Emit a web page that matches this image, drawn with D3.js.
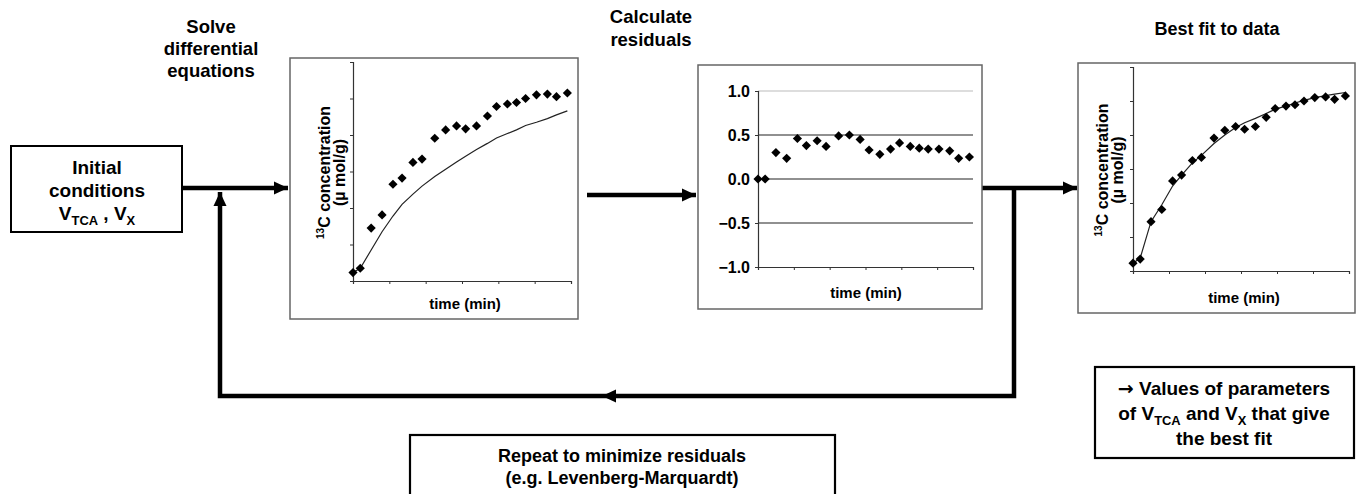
<!DOCTYPE html>
<html>
<head>
<meta charset="utf-8">
<script src="https://cdn.jsdelivr.net/npm/d3@7"></script>
<style>
  body { margin: 0; background: #fff; }
  svg { display: block; font-family: "Liberation Sans", Arial, sans-serif; font-weight: bold; }
</style>
</head>
<body>
<svg id="chart" width="1358" height="494"></svg>
<script>
// sampling times (min) shared by all three panels
const times = [0, 2, 5, 8, 11, 13.5, 16.5, 19, 22.5, 25.5, 28.5, 31, 34, 37, 39.5, 42.5, 45, 47.5, 50.5, 53.5, 56, 59]
// measured 13C concentration (arbitrary units)
const measured = [0.23, 0.35, 1.45, 1.81, 2.65, 2.82, 3.25, 3.34, 3.91, 4.14, 4.25, 4.17, 4.25, 4.52, 4.78, 4.85, 4.89, 5.0, 5.1, 5.12, 5.05, 5.15]
// model curve with the initial guess of parameters
const initialModel = [0.23, 0.35, 0.85, 1.35, 1.78, 2.1, 2.38, 2.6, 2.86, 3.06, 3.26, 3.42, 3.6, 3.77, 3.92, 4.04, 4.14, 4.26, 4.35, 4.45, 4.55, 4.66]
// model curve after fitting
const fittedModel = [0.23, 0.38, 1.45, 1.95, 2.5, 2.82, 3.18, 3.4, 3.75, 4.0, 4.22, 4.36, 4.49, 4.63, 4.76, 4.85, 4.94, 5.02, 5.1, 5.16, 5.2, 5.25]
// residuals
const residuals = [0, 0, 0.3, 0.235, 0.46, 0.38, 0.435, 0.37, 0.49, 0.5, 0.45, 0.33, 0.28, 0.34, 0.41, 0.37, 0.35, 0.34, 0.34, 0.32, 0.235, 0.25]
const residualTicks = [-1, -0.5, 0, 0.5, 1]

const svg = d3.select('#chart')
const axisColor = '#333'
const frameColor = '#666'

// Draws a thick polyline, optionally with an arrow head at the end
const arrow = (pts, head) => {
    svg.append('path')
        .attr('d', d3.line()(pts))
        .attr('fill', 'none')
        .attr('stroke', '#000')
        .attr('stroke-width', 4.5)
        .attr('stroke-linejoin', 'miter')
    if (!head) return
    const [x2, y2] = pts[pts.length - 1]
    const [x1, y1] = pts[pts.length - 2]
    const a = Math.atan2(y2 - y1, x2 - x1) * 180 / Math.PI
    svg.append('path')
        .attr('d', 'M0,0 L-14,-6.5 L-14,6.5 Z')
        .attr('fill', '#000')
        .attr('transform', `translate(${x2},${y2}) rotate(${a})`)
}

// Text block with lines; each line is a list of [text, kind] parts
const textBlock = (cx, y0, dy, size, lines) => {
    lines.forEach((parts, i) => {
        const t = svg.append('text')
            .attr('x', cx).attr('y', y0 + i * dy)
            .attr('text-anchor', 'middle')
            .attr('font-size', size)
        parts.forEach(p => {
            const [str, kind] = Array.isArray(p) ? p : [p, null]
            const ts = t.append('tspan').text(str)
            if (kind === 'sub') ts.attr('font-size', size * 0.68).attr('dy', 5)
            if (kind === 'back') ts.attr('dy', -5)
            if (kind === 'sym') ts.attr('font-family', '"DejaVu Sans", sans-serif')
        })
    })
}

const box = (x, y, w, h, sw, color) => {
    svg.append('rect').attr('x', x).attr('y', y).attr('width', w).attr('height', h)
        .attr('fill', '#fff').attr('stroke', color).attr('stroke-width', sw)
}

// ---------- flow arrows ----------
arrow([[175, 188], [288, 188]], true)
arrow([[587, 195], [696, 195]], true)
arrow([[982, 188], [1077, 188]], true)
arrow([[1014, 188], [1014, 396], [220, 396], [220, 192]], true)
// left pointing head on the return line
svg.append('path').attr('d', 'M0,0 L14,-6.5 L14,6.5 Z').attr('fill', '#000')
    .attr('transform', 'translate(602,396)')

// ---------- boxes with text ----------
box(11, 146, 171, 86, 2, '#000')
textBlock(97, 174, 23, 19, [
    ['Initial'],
    ['conditions'],
    ['V', ['TCA', 'sub'], [' , V', 'back'], ['X', 'sub']]
])

box(1095, 367, 259, 91, 2.2, '#000')
textBlock(1224, 395, 25, 19, [
    [['\u2192', 'sym'], ' Values of parameters'],
    ['of V', ['TCA', 'sub'], [' and V', 'back'], ['X', 'sub'], [' that give', 'back']],
    ['the best fit']
])

box(410, 435, 425, 70, 2.2, '#000')
textBlock(622, 462, 22, 18, [
    ['Repeat to minimize residuals'],
    ['(e.g. Levenberg-Marquardt)']
])

// ---------- titles ----------
textBlock(211, 33, 22, 18.5, [['Solve'], ['differential'], ['equations']])
textBlock(651, 23, 23, 18.5, [['Calculate'], ['residuals']])
textBlock(1217, 35, 22, 18, [['Best fit to data']])

// ---------- concentration panels ----------
const diamond = d3.symbol().type(d3.symbolSquare).size(42)

const concPanel = (frame, plot, model, labelX) => {
    box(frame.x, frame.y, frame.w, frame.h, 1.5, frameColor)
    const x = d3.scaleLinear().domain([0, 60]).range([plot.x0, plot.x1])
    const y = d3.scaleLinear().domain([0, 6]).range([plot.y0, plot.y1])
    const g = svg.append('g')

    g.append('g').attr('transform', `translate(0,${plot.y0})`)
        .call(d3.axisBottom(x).ticks(6).tickSize(3).tickFormat(''))
    g.append('g').attr('transform', `translate(${plot.x0},0)`)
        .call(d3.axisLeft(y).ticks(6).tickSize(3).tickFormat(''))
    g.selectAll('.domain').attr('stroke', axisColor).attr('stroke-width', 1.2)
    g.selectAll('.tick line').attr('stroke', axisColor)

    g.append('path')
        .datum(times.map((t, i) => [t, model[i]]))
        .attr('d', d3.line().x(d => x(d[0])).y(d => y(d[1])))
        .attr('fill', 'none').attr('stroke', '#222').attr('stroke-width', 1.2)

    g.selectAll('.pt').data(times.map((t, i) => [t, measured[i]])).join('path')
        .attr('d', diamond)
        .attr('transform', d => `translate(${x(d[0])},${y(d[1])}) rotate(45)`)
        .attr('fill', '#000')

    g.append('text').attr('x', (plot.x0 + plot.x1) / 2 + 3).attr('y', frame.y + frame.h - 10)
        .attr('text-anchor', 'middle').attr('font-size', 15).text('time (min)')

    const cy = (plot.y0 + plot.y1) / 2 + 1
    const l1 = g.append('text').attr('text-anchor', 'middle').attr('font-size', 16)
        .attr('transform', `translate(${labelX},${cy}) rotate(-90)`)
    l1.append('tspan').attr('font-size', 10).attr('dy', -6).text('13')
    l1.append('tspan').attr('dy', 6).text('C concentration')
    g.append('text').attr('text-anchor', 'middle').attr('font-size', 16)
        .attr('transform', `translate(${labelX + 15},${cy}) rotate(-90)`)
        .text('(\u00b5 mol/g)')
}

concPanel({ x: 290, y: 58, w: 288, h: 261 }, { x0: 353, x1: 571, y0: 281, y1: 62 }, initialModel, 330)
concPanel({ x: 1078, y: 63, w: 277, h: 250 }, { x0: 1133, x1: 1349, y0: 271, y1: 67 }, fittedModel, 1108)

// ---------- residual panel ----------
box(698, 65, 284, 244, 1.5, frameColor)
const rx = d3.scaleLinear().domain([0, 60]).range([758, 973])
const ry = d3.scaleLinear().domain([-1, 1]).range([267, 91])
const rg = svg.append('g')

rg.selectAll('.grid').data(residualTicks.filter(v => v > -1)).join('line')
    .attr('x1', rx(0)).attr('x2', rx(60))
    .attr('y1', d => ry(d)).attr('y2', d => ry(d))
    .attr('stroke', d => d === 1 ? '#bbb' : '#222').attr('stroke-width', 1.2)

rg.append('g').attr('transform', `translate(0,${ry(-1)})`)
    .call(d3.axisBottom(rx).ticks(6).tickSize(3).tickFormat(''))
rg.append('g').attr('transform', `translate(${rx(0)},0)`)
    .call(d3.axisLeft(ry).tickValues(residualTicks).tickSize(3).tickFormat(d3.format('.1f')))
rg.selectAll('.domain').attr('stroke', axisColor).attr('stroke-width', 1.2)
rg.selectAll('.tick line').attr('stroke', axisColor)
rg.selectAll('.tick text').attr('font-size', 16).attr('font-family', '"Liberation Sans", Arial, sans-serif')
    .attr('font-weight', 'bold').attr('fill', '#000').attr('x', -8)

rg.selectAll('.pt').data(times.map((t, i) => [t, residuals[i]])).join('path')
    .attr('d', diamond)
    .attr('transform', d => `translate(${rx(d[0])},${ry(d[1])}) rotate(45)`)
    .attr('fill', '#000')

rg.append('text').attr('x', 866).attr('y', 298).attr('text-anchor', 'middle')
    .attr('font-size', 15).text('time (min)')
</script>
</body>
</html>
